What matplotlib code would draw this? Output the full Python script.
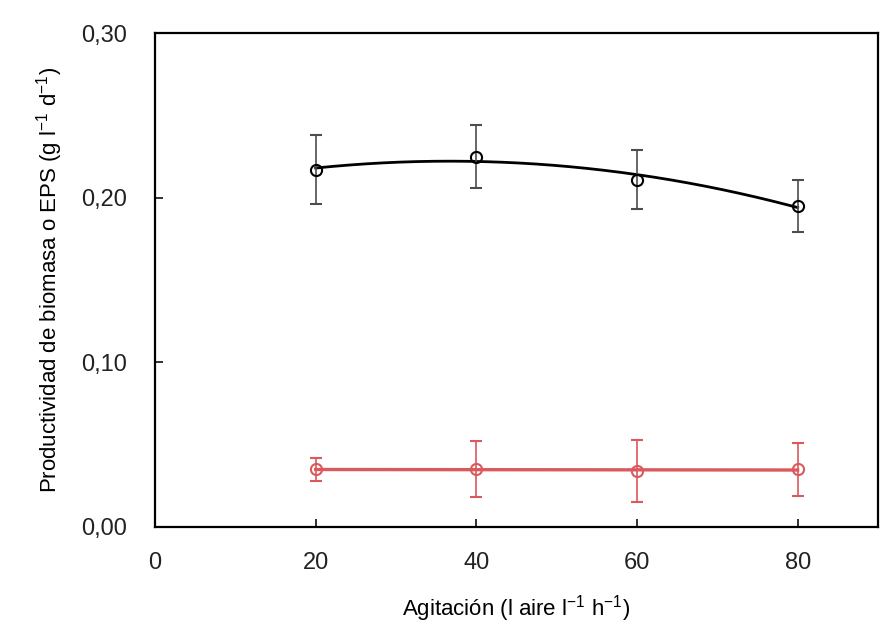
import numpy as np
import matplotlib
matplotlib.use("Agg")
import matplotlib.pyplot as plt
from matplotlib.ticker import FuncFormatter

plt.rcParams['font.family'] = ['Liberation Sans', 'DejaVu Sans']
plt.rcParams['mathtext.default'] = 'regular'

# agitacion (l aire l-1 h-1)
agitacion = [20, 40, 60, 80]

# productividad de biomasa y su desviacion
biomasa = [0.217, 0.225, 0.211, 0.195]
biomasa_err = [0.021, 0.019, 0.018, 0.016]

# productividad de EPS y su desviacion
eps = [0.035, 0.035, 0.034, 0.035]
eps_err = [0.007, 0.017, 0.019, 0.016]

negro = '#000000'
gris = '#4d4d4d'
rojo = '#d9595c'

fig = plt.figure(figsize=(8.95, 6.29), dpi=100)
ax = fig.add_axes([0.1732, 0.1622, 0.8078, 0.7853])

# lineas de tendencia: polinomica (biomasa) y lineal (EPS)
xs = np.linspace(agitacion[0], agitacion[-1], 200)
pb = np.polyfit(agitacion, biomasa, 2)
pe = np.polyfit(agitacion, eps, 1)
ax.plot(xs, np.polyval(pb, xs), color=negro, lw=2.0, zorder=3)
ax.plot(xs, np.polyval(pe, xs), color=rojo, lw=2.4, zorder=3)

ax.errorbar(agitacion, biomasa, yerr=biomasa_err, fmt='o', mfc='none',
            mec=negro, mew=1.5, ms=8, ecolor=gris, elinewidth=1.2,
            capsize=4, capthick=1.2, zorder=4)
ax.errorbar(agitacion, eps, yerr=eps_err, fmt='o', mfc='none',
            mec=rojo, mew=1.5, ms=8, ecolor=rojo, elinewidth=1.2,
            capsize=4, capthick=1.2, zorder=4)

ax.set_xlim(0, 90)
ax.set_ylim(0, 0.30)
ax.set_xticks([0, 20, 40, 60, 80])
ax.set_yticks([0, 0.10, 0.20, 0.30])
ax.yaxis.set_major_formatter(FuncFormatter(lambda v, p: f"{v:.2f}".replace('.', ',')))

for s in ax.spines.values():
    s.set_linewidth(1.6)
ax.tick_params(direction='in', length=6, width=1.3, labelsize=17, colors='#222222')
ax.tick_params(axis='x', pad=18)
ax.tick_params(axis='y', pad=20)

ax.set_xlabel('Agitación (l aire l$^{-1}$ h$^{-1}$)', fontsize=16, labelpad=14)
ax.set_ylabel('Productividad de biomasa o EPS (g l$^{-1}$ d$^{-1}$)', fontsize=16, labelpad=12)

fig.savefig('out.png', dpi=100)
